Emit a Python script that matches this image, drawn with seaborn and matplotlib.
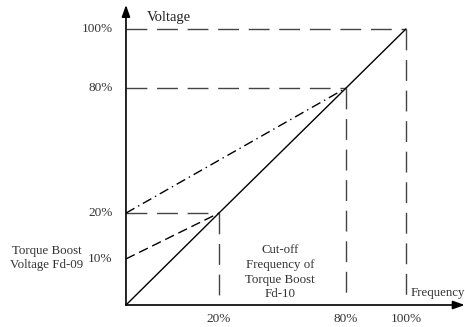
import matplotlib.pyplot as plt
import seaborn as sns

# schematic V/F curve, positions are axis units (100% -> 100)
freq_labels = ['20%', '80%', '100%']
freq_pos = [33.2, 78.6, 100]
volt_labels = ['10%', '20%', '80%', '100%']
volt_pos = [16.7, 33.3, 78.6, 100]

# solid V/F line
vf_x = [0, 33.2, 78.6, 100]
vf_y = [0, 33.3, 78.6, 100]
# torque boost (dashed) from 10% to the 20% point
boost_x = [0, 33.2]
boost_y = [16.7, 33.3]
# boost (dash-dot) from 20% to the 80% point
boost2_x = [0, 78.6]
boost2_y = [33.3, 78.6]

sns.set_style('white')
plt.rcParams['font.family'] = ['Liberation Serif', 'DejaVu Serif']

fig = plt.figure(figsize=(4.65, 3.27), dpi=100)
ax = fig.add_axes([0, 0, 1, 1])
ax.set_xlim(-45, 121.1)
ax.set_ylim(-7.97, 110.5)
ax.axis('off')

guide = '#444444'
# horizontal guides
ax.plot([0, 100], [100, 100], color=guide, lw=1, dashes=(15, 7))
ax.plot([0, 78.6], [78.6, 78.6], color=guide, lw=1, dashes=(15, 7))
ax.plot([0, 33.2], [33.3, 33.3], color=guide, lw=1, dashes=(15, 7))
# vertical guides
ax.plot([33.2, 33.2], [33.3, 3.5], color=guide, lw=1, dashes=(15, 7))
ax.plot([78.6, 78.6], [78.6, 3.5], color=guide, lw=1, dashes=(15, 7))
ax.plot([100, 100], [100, 3], color=guide, lw=1, dashes=(15, 7))

sns.lineplot(x=vf_x, y=vf_y, sort=False, color='black', lw=1, ax=ax)
sns.lineplot(x=boost_x, y=boost_y, sort=False, color='black', lw=1,
             ax=ax).lines[-1].set_dashes((7, 3.5))
sns.lineplot(x=boost2_x, y=boost2_y, sort=False, color='black', lw=1,
             ax=ax).lines[-1].set_dashes((7, 3, 1, 3))

# axes with arrows
arrow = dict(arrowstyle='-|>,head_length=0.7,head_width=0.25', color='black', lw=1.2,
             shrinkA=0, shrinkB=0)
ax.annotate('', xy=(0, 108.7), xytext=(0, 0), arrowprops=arrow)
ax.annotate('', xy=(121, 0), xytext=(0, 0), arrowprops=arrow)

txt = '#333333'
for lab, p in zip(volt_labels, volt_pos):
    ax.text(-4.8, p, lab, ha='right', va='center', fontsize=9.5, color=txt)
for lab, p in zip(freq_labels, freq_pos):
    ax.text(p, -4.9, lab, ha='center', va='center', fontsize=9.5, color=txt)

ax.text(7.5, 104, 'Voltage', ha='left', va='center', fontsize=10.5, color='#222222')
ax.text(101.8, 4.3, 'Frequency', ha='left', va='center', fontsize=9.3, color=txt)
ax.text(-28.2, 17, 'Torque Boost\nVoltage Fd-09', ha='center', va='center',
        fontsize=9.3, color=txt, linespacing=1.15)
ax.text(55, 11.8, 'Cut-off\nFrequency of\nTorque Boost\nFd-10', ha='center',
        va='center', fontsize=9.3, color=txt, linespacing=1.3)

fig.savefig('out.png', dpi=100)
